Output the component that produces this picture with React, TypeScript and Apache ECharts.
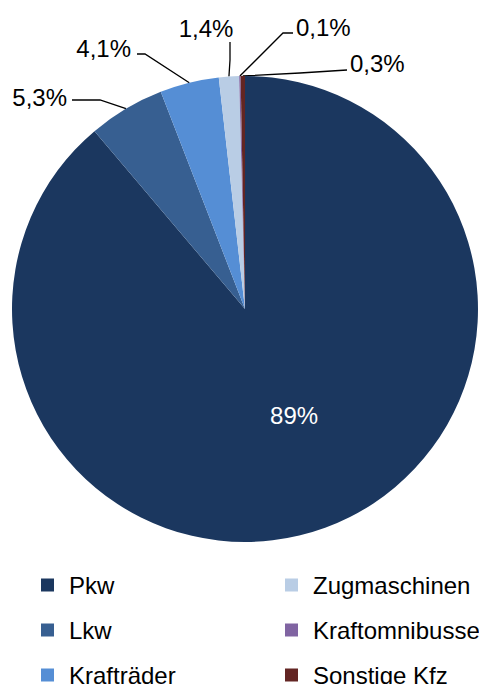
import React, { useEffect, useRef } from "react";
import * as echarts from "echarts";

const categories = ["Pkw", "Lkw", "Krafträder", "Zugmaschinen", "Kraftomnibusse", "Sonstige Kfz"];
const values = [89, 5.3, 4.1, 1.4, 0.1, 0.3];
const colors = ["#1b375f", "#375f91", "#558ed5", "#b9cde5", "#8064a2", "#632523"];
const leftLegend = ["Pkw", "Lkw", "Krafträder"];
const rightLegend = ["Zugmaschinen", "Kraftomnibusse", "Sonstige Kfz"];

// label placement (layout only): label anchor, alignment, elbow and end of leader line
const labelPlaces: Record<number, { x: number; y: number; align: string; elbow: number[]; end: number[] }> = {
  1: { x: 67, y: 97, align: "right", elbow: [100, 100], end: [72, 100] },
  2: { x: 131, y: 48, align: "right", elbow: [145, 54], end: [137, 54] },
  3: { x: 206, y: 28, align: "center", elbow: [230, 60], end: [230, 42] },
  4: { x: 296, y: 27, align: "left", elbow: [283, 33], end: [293, 33] },
  5: { x: 350, y: 63, align: "left", elbow: [300, 73], end: [347, 70] },
};

const FONT = "'Liberation Sans', Arial, Helvetica, sans-serif";

const fmt = (v: number) => String(v).replace(".", ",") + "%";

export default function App() {
  const ref = useRef<HTMLDivElement>(null);
  useEffect(() => {
    document.body.style.margin = "0";
    const chart = echarts.init(ref.current!, null, { renderer: "svg" });
    const legendBase = {
      orient: "vertical" as const,
      icon: "rect",
      itemWidth: 13,
      itemHeight: 13,
      itemGap: 21,
      top: 573,
      height: 160,
      padding: 0,
      textStyle: {
        fontSize: 24,
        lineHeight: 24,
        color: "#000",
        fontFamily: FONT,
        padding: [0, 0, 0, 10],
      },
    };
    chart.setOption({
      animation: false,
      color: colors,
      legend: [
        { ...legendBase, left: 41, data: leftLegend },
        { ...legendBase, left: 285, data: rightLegend },
      ],
      series: [
        {
          type: "pie",
          center: [245, 309],
          radius: 233,
          startAngle: 90,
          clockwise: true,
          avoidLabelOverlap: false,
          data: categories.map((name, i) => ({
            name,
            value: values[i],
            label:
              i === 0
                ? { position: "inside", color: "#fff", formatter: fmt(values[i]) }
                : { position: "outside", color: "#000", formatter: fmt(values[i]) },
            labelLine: { show: i !== 0, lineStyle: { color: "#000", width: 1.3 } },
          })),
          label: { fontSize: 24, fontFamily: FONT },
          labelLine: { smooth: false },
          labelLayout: (params: any) => {
            if (params.dataIndex === 0) return { dx: 8, dy: -6 };
            const p = labelPlaces[params.dataIndex];
            if (!p) return {};
            const start = params.labelLinePoints ? params.labelLinePoints[0] : p.elbow;
            return {
              x: p.x,
              y: p.y,
              align: p.align,
              verticalAlign: "middle",
              labelLinePoints: [start, p.elbow, p.end],
            };
          },
          itemStyle: { borderWidth: 0 },
          emphasis: { disabled: true },
        },
      ],
    });
    return () => chart.dispose();
  }, []);
  return <div ref={ref} style={{ position: "absolute", left: 0, top: 0, width: 479, height: 684 }} />;
}
